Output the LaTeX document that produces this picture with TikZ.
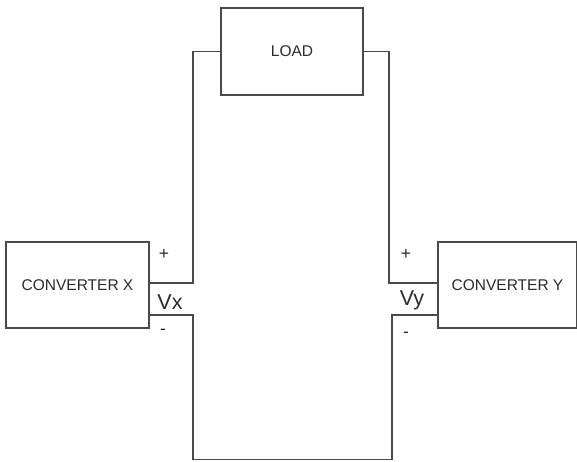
\documentclass[tikz,border=0pt]{standalone}
\usepackage{fontspec}
\setmainfont{Liberation Sans}
\usepackage{tikz}
\usetikzlibrary{positioning, calc}
\definecolor{wireInk}{HTML}{4A4A4A}
\definecolor{txtInk}{HTML}{2B2B2B}

\begin{document}
\begin{tikzpicture}[
    x=1pt, y=-1pt,
    font=\fontsize{15.5}{17}\selectfont,
    unit/.style ={draw=wireInk, line width=1.3pt, fill=white, text=txtInk, align=center, inner sep=0pt},
    wire/.style ={draw=wireInk, line width=1.3pt},
    sign/.style ={text=txtInk, inner sep=0pt, font=\fontsize{17.5}{19}\selectfont},
    volt/.style ={text=txtInk, inner sep=0pt, font=\fontsize{21.5}{23}\selectfont},
]
\useasboundingbox (0,0) rectangle (577,461);

% ---- Boxes ----
\node[unit, minimum width=142pt, minimum height=87pt] (load) at (292,51.5) {LOAD};
\node[unit, minimum width=143pt, minimum height=86pt] (convX) at (77.5,285) {CONVERTER X};
\node[unit, minimum width=139pt, minimum height=86pt] (convY) at (507.5,285) {CONVERTER Y};

% ---- Ports and bends ----
\coordinate (xPlus)  at ([yshift=2pt]convX.east);
\coordinate (xMinus) at ([yshift=-30pt]convX.east);
\coordinate (yPlus)  at ([yshift=2pt]convY.west);
\coordinate (yMinus) at ([yshift=-30pt]convY.west);
\coordinate (bendL) at (193,0);
\coordinate (bendR) at (389,0);
\coordinate (botL) at (193,459.5);
\coordinate (botR) at (392,459.5);

% ---- Wires ----
\draw[wire] (xPlus) -- (xPlus -| bendL) |- (load.west);
\draw[wire] (yPlus) -- (yPlus -| bendR) |- (load.east);
\draw[wire] (xMinus) -| (botL) -- (botR) |- (yMinus);

% ---- Polarity labels ----
\node[sign] (xp) at (164,254) {+};
\node[volt] (vx) at (170,302) {Vx};
\node[sign] (xm) at (163,332) {-};
\node[sign] (yp) at (406,254) {+};
\node[volt] (vy) at (412,300) {Vy};
\node[sign] (ym) at (406,335) {-};

\end{tikzpicture}
\end{document}
